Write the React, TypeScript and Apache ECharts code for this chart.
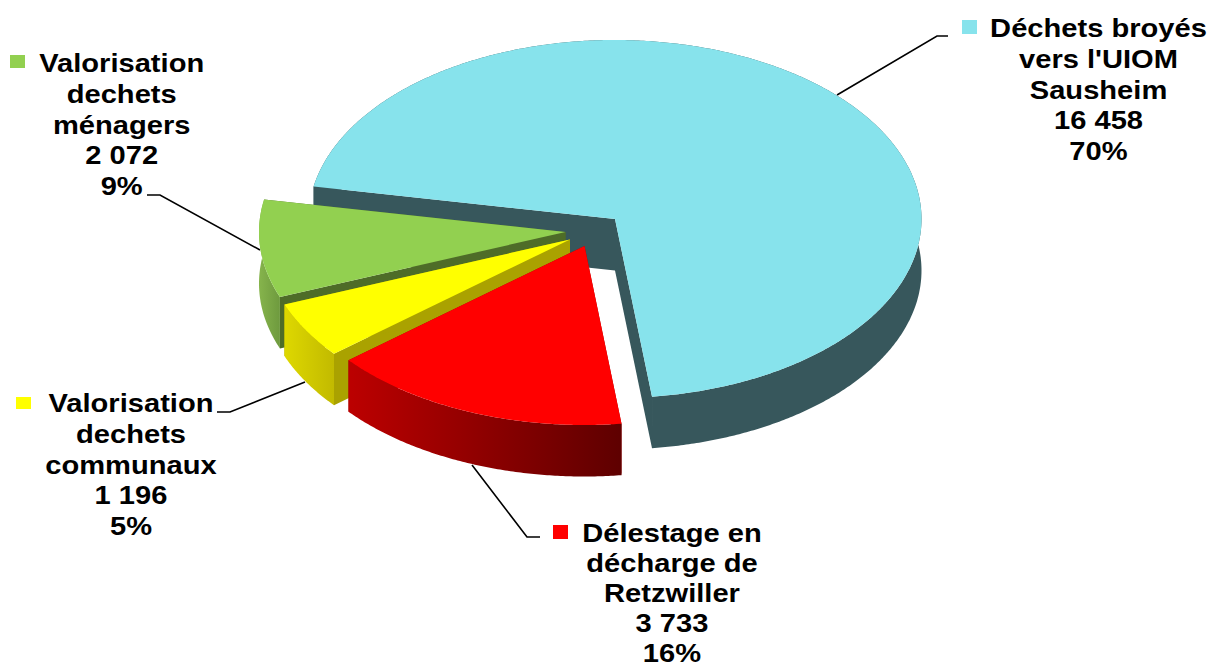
import React, { useEffect, useRef } from "react";
import * as echarts from "echarts";

// ---- data (clockwise order, as in the original pie) ----
const nameLines = [
  ["Déchets broyés", "vers l'UIOM", "Sausheim"],
  ["Délestage en", "décharge de", "Retzwiller"],
  ["Valorisation", "dechets", "communaux"],
  ["Valorisation", "dechets", "ménagers"],
];
const values = [16458, 3733, 1196, 2072];
const valueLabels = ["16 458", "3 733", "1 196", "2 072"];

// ---- styles and layout ----
const topColors = ["#87E3EC", "#FF0000", "#FFFF00", "#92D050"];
const rimColors = [
  ["#37575C", "#37575C"],
  ["#BC0000", "#5E0000"],
  ["#DED800", "#C2BA00"],
  ["#86B44C", "#6E9A3E"],
];
const cutColors = ["#37575C", "#9A0000", "#AAA200", "#4E6C28"];
const centers = [[615, 219], [584.5, 246], [570, 239.5], [565.5, 232]];
const leaders = [
  [[837, 95], [937, 36], [948, 36]],
  [[472, 465], [527, 537], [540, 537]],
  [[217, 412], [230, 412], [305, 382]],
  [[147, 195], [160, 195], [260, 250]],
];
const keyBoxes = [[962, 20, 15, 14], [553, 525, 15, 14], [16, 397, 15, 12], [10, 55, 15, 13]];
const labelCentres = [1098.5, 672, 131, 121.7];
const firstBaselines = [37, 542, 412, 72];
const lineSteps = [30.8, 29.9, 30.8, 30.8];
const drawOrder = [0, 3, 2, 1];

const RX = 306.5;
const RY = 179;
const DEPTH = 51.5;
const START_ANGLE = 190.5;
const BASELINE_SHIFT = 4;
const FONT = 'bold 26px "Liberation Sans", Arial, sans-serif';
const TEXT_STRETCH = 1.12;

const total = values.reduce((a, b) => a + b, 0);
const starts: number[] = [];
values.reduce((acc, v, i) => {
  starts[i] = acc;
  return acc + (v / total) * 360;
}, START_ANGLE);

function rimPoint(cx: number, cy: number, deg: number, dy = 0): number[] {
  const t = (deg * Math.PI) / 180;
  return [cx + RX * Math.cos(t), cy + RY * Math.sin(t) + dy];
}

function arcPoints(cx: number, cy: number, a0: number, a1: number, dy = 0): number[][] {
  const pts: number[][] = [];
  const n = Math.max(2, Math.ceil(Math.abs(a1 - a0) * 2));
  for (let i = 0; i <= n; i++) pts.push(rimPoint(cx, cy, a0 + ((a1 - a0) * i) / n, dy));
  return pts;
}

function renderSlice(_params: any, api: any) {
  const i = api.value(0) as number;
  const value = api.value(1) as number;
  const a0 = starts[i];
  const a1 = a0 + (value / total) * 360;
  const [cx, cy] = centers[i];
  const rim = arcPoints(cx, cy, a0, a1);
  const rimLow = arcPoints(cx, cy, a0, a1, DEPTH).reverse();
  const first = rim[0];
  const last = rim[rim.length - 1];
  const children: any[] = [];

  // leader line
  children.push({
    type: "polyline",
    shape: { points: leaders[i] },
    style: { stroke: "#000", lineWidth: 1.6, fill: "none" },
  });

  const cutFace = (p: number[]) => ({
    type: "polygon",
    shape: {
      points: [[cx, cy], p, [p[0], p[1] + DEPTH], [cx, cy + DEPTH]],
    },
    style: { fill: cutColors[i] },
  });
  children.push(cutFace(first));
  children.push(cutFace(last));

  children.push({
    type: "polygon",
    shape: { points: rim.concat(rimLow) },
    style: {
      fill: new echarts.graphic.LinearGradient(0, 0, 1, 0, [
        { offset: 0, color: rimColors[i][0] },
        { offset: 1, color: rimColors[i][1] },
      ]),
    },
  });

  children.push({
    type: "polygon",
    shape: { points: [[cx, cy]].concat(rim) },
    style: { fill: topColors[i] },
  });

  // legend key
  const [kx, ky, kw, kh] = keyBoxes[i];
  children.push({
    type: "rect",
    shape: { x: kx, y: ky, width: kw, height: kh },
    style: { fill: topColors[i] },
  });

  // label lines
  const lines = nameLines[i].concat([valueLabels[i], `${Math.round((value / total) * 100)}%`]);
  lines.forEach((line, k) => {
    children.push({
      type: "text",
      x: labelCentres[i],
      y: firstBaselines[i] + BASELINE_SHIFT + k * lineSteps[i],
      scaleX: TEXT_STRETCH,
      style: {
        text: line,
        font: FONT,
        fill: "#000",
        textAlign: "center",
        textVerticalAlign: "bottom",
      },
    });
  });

  return { type: "group", children };
}

export default function App() {
  const ref = useRef<HTMLDivElement>(null);
  useEffect(() => {
    document.body.style.margin = "0";
    const chart = echarts.init(ref.current!, null, { renderer: "svg" });
    chart.setOption({
      animation: false,
      backgroundColor: "#fff",
      series: [
        {
          type: "custom",
          coordinateSystem: "none",
          silent: true,
          renderItem: renderSlice,
          encode: { value: 1 },
          data: drawOrder.map((i) => [i, values[i]]),
        },
      ],
    });
    return () => chart.dispose();
  }, []);
  return <div ref={ref} style={{ position: "absolute", left: 0, top: 0, width: 1210, height: 666 }} />;
}
